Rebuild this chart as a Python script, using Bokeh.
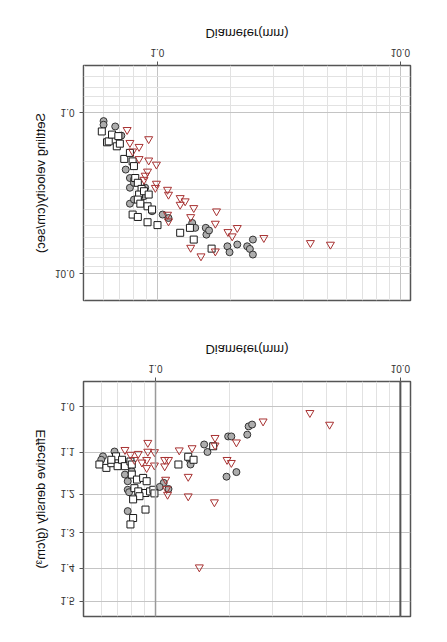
from bokeh.plotting import figure
from bokeh.models import Range1d, FixedTicker, PrintfTickFormatter, Span
from bokeh.layouts import column
from bokeh.embed import file_html
from bokeh.resources import INLINE

# ---------------- data ----------------
x_major = [1, 10]
x_minor = [0.5, 0.6, 0.7, 0.8, 0.9, 2, 3, 4, 5, 6, 7, 8, 9]
vel_major = [1, 10]
vel_minor = [0.5, 0.6, 0.7, 0.8, 0.9, 2, 3, 4, 5, 6, 7, 8, 9]
den_major = [1.0, 1.1, 1.2, 1.3, 1.4, 1.5]

# Settling velocity panel
vel_circle_d = [0.60, 0.60, 0.67, 0.71, 0.74, 0.77, 0.77, 0.77, 0.80, 0.80, 0.80, 0.88, 0.89, 0.95,
                1.05, 1.11, 1.39, 1.43, 1.58, 1.59, 1.63, 1.94, 1.98, 2.13, 2.34, 2.47, 2.40, 2.47]
vel_circle_v = [1.13, 1.19, 1.22, 1.39, 2.26, 2.55, 2.93, 3.68, 2.61, 2.73, 3.47, 3.31, 2.93, 4.10,
                4.30, 4.52, 4.85, 5.20, 5.20, 5.73, 5.40, 6.77, 7.37, 6.60, 6.77, 6.15, 7.03, 7.62]
vel_square_d = [0.59, 0.62, 0.63, 0.65, 0.68, 0.69, 0.70, 0.73, 0.77, 0.79, 0.80, 0.81, 0.83, 0.86,
                0.84, 0.88, 0.92, 0.83, 0.85, 0.91, 0.95, 0.79, 0.83, 0.91, 1.00, 1.24, 1.36, 1.41, 1.67]
vel_square_v = [1.31, 1.53, 1.51, 1.37, 1.62, 1.40, 1.56, 1.94, 1.78, 2.01, 2.15, 2.55, 2.73, 2.98,
                3.23, 3.08, 3.23, 3.47, 3.68, 3.82, 4.00, 4.30, 4.45, 4.80, 5.00, 5.58, 5.20, 6.15, 7.00]
vel_tri_d = [0.75, 0.92, 0.77, 0.84, 0.79, 0.84, 0.92, 0.99, 0.91, 0.89, 0.88, 0.99, 0.98, 1.10, 1.11,
             1.24, 1.24, 1.30, 1.41, 1.75, 1.10, 1.11, 1.37, 1.73, 2.13, 1.95, 2.03, 2.74, 1.37, 1.51,
             1.73, 4.26, 5.15]
vel_tri_v = [1.28, 1.46, 1.54, 1.63, 1.74, 1.94, 1.98, 2.10, 2.32, 2.46, 2.61, 2.76, 2.93, 3.01, 3.23,
             3.39, 3.73, 3.55, 3.91, 4.10, 4.30, 4.73, 4.45, 4.89, 5.20, 5.51, 5.86, 6.00, 6.90, 7.80,
             7.27, 6.45, 6.60]

# Effective density panel
den_circle_d = [0.61, 0.60, 0.68, 0.76, 0.75, 0.77, 0.77, 0.80, 0.77, 1.08, 1.04, 1.13, 1.58, 1.63,
                1.38, 1.39, 1.95, 2.14, 1.98, 2.04, 2.37, 2.40, 2.48, 0.78]
den_circle_r = [1.109, 1.117, 1.098, 1.128, 1.152, 1.168, 1.189, 1.144, 1.243, 1.172, 1.182, 1.187,
                1.082, 1.099, 1.117, 1.128, 1.157, 1.146, 1.064, 1.064, 1.060, 1.042, 1.038, 1.195]
den_square_d = [0.59, 0.63, 0.66, 0.69, 0.70, 0.73, 0.75, 0.79, 0.80, 0.80, 0.84, 0.89, 0.92, 0.82,
                0.85, 0.91, 0.95, 0.98, 0.99, 0.86, 0.81, 0.81, 0.79, 0.91, 1.24, 1.36, 1.43, 1.72, 0.66]
den_square_r = [1.128, 1.136, 1.125, 1.109, 1.132, 1.117, 1.132, 1.121, 1.128, 1.152, 1.164, 1.160,
                1.168, 1.185, 1.193, 1.197, 1.193, 1.189, 1.198, 1.205, 1.213, 1.261, 1.278, 1.239,
                1.128, 1.110, 1.117, 1.086, 1.117]
den_tri_d = [0.75, 0.79, 0.85, 0.93, 0.93, 0.99, 0.82, 0.88, 0.92, 0.92, 0.99, 1.09, 1.13, 1.09, 1.10,
             1.11, 1.12, 1.25, 1.41, 1.36, 1.36, 1.74, 1.75, 1.75, 1.96, 2.04, 2.14, 2.75, 4.27, 5.14,
             1.51]
den_tri_r = [1.094, 1.105, 1.103, 1.078, 1.098, 1.099, 1.117, 1.123, 1.117, 1.136, 1.130, 1.117, 1.117,
             1.132, 1.164, 1.187, 1.201, 1.095, 1.090, 1.157, 1.205, 1.220, 1.067, 1.084, 1.117, 1.124,
             1.077, 1.031, 1.013, 1.038, 1.397]

FONT = "Liberation Sans"


def style(p, yticks, yminor, ylabel, ystandoff):
    p.background_fill_color = "white"
    p.border_fill_color = "white"
    p.outline_line_color = "#555555"
    p.outline_line_width = 1.5
    p.xaxis.ticker = FixedTicker(ticks=x_major, minor_ticks=x_minor)
    p.yaxis.ticker = FixedTicker(ticks=yticks, minor_ticks=yminor)
    p.xgrid.ticker = FixedTicker(ticks=x_major, minor_ticks=x_minor)
    p.ygrid.ticker = FixedTicker(ticks=yticks, minor_ticks=yminor)
    for g in (p.xgrid, p.ygrid):
        g.grid_line_color = "#c4c4c4"
        g.minor_grid_line_color = "#e2e2e2"
    p.xaxis.axis_label = "Diameter(mm)"
    p.yaxis.axis_label = ylabel
    for ax in (p.xaxis, p.yaxis):
        ax.formatter = PrintfTickFormatter(format="%.1f")
        ax.axis_line_color = None
        ax.major_tick_line_color = "#555555"
        ax.major_tick_out = 4
        ax.major_tick_in = 0
        ax.minor_tick_line_color = None
        ax.major_label_text_font = FONT
        ax.major_label_text_font_size = "10px"
        ax.major_label_text_color = "#333333"
        ax.major_label_standoff = 5
        ax.axis_label_text_font = FONT
        ax.axis_label_text_font_size = "13px"
        ax.axis_label_text_font_style = "normal"
        ax.axis_label_text_color = "#111111"
    p.xaxis.axis_label_standoff = 5
    p.yaxis.axis_label_standoff = ystandoff


def add_points(p, cd, cv, sd, sv, td, tv):
    p.scatter(cd, cv, marker="circle", size=7, fill_color="#adadad", line_color="#333333", line_width=1)
    p.scatter(sd, sv, marker="square", size=7, fill_color="white", line_color="#1a1a1a", line_width=1)
    p.scatter(td, tv, marker="triangle", size=8, fill_color="white", fill_alpha=0.0,
              line_color="#a83232", line_width=1)


# top panel (effective density) -- shown at the bottom once the page is mirrored
pA = figure(x_axis_type="log", y_axis_type="log",
            x_range=Range1d(0.508, 11.0), y_range=Range1d(0.949, 1.548),
            frame_width=327, frame_height=235,
            min_border_left=82, min_border_right=22, min_border_top=17, min_border_bottom=58,
            output_backend="svg", toolbar_location=None)
style(pA, den_major, [], "Effective density (g/cm\u00b3)", 10)
pA.add_layout(Span(location=x_major[0], dimension="height", line_color="#9a9a9a", line_width=1.5))
pA.add_layout(Span(location=x_major[1], dimension="height", line_color="#555555", line_width=2))
add_points(pA, den_circle_d, den_circle_r, den_square_d, den_square_r, den_tri_d, den_tri_r)

# bottom panel (settling velocity) -- shown at the top once the page is mirrored
pB = figure(x_axis_type="log", y_axis_type="log",
            x_range=Range1d(0.496, 11.0), y_range=Range1d(0.51, 14.7),
            frame_width=327, frame_height=235,
            min_border_left=83, min_border_right=21, min_border_top=23, min_border_bottom=66,
            output_backend="svg", toolbar_location=None)
style(pB, vel_major, vel_minor, "Settling velocity(cm/sec)", 4)
add_points(pB, vel_circle_d, vel_circle_v, vel_square_d, vel_square_v, vel_tri_d, vel_tri_v)

layout = column(pA, pB, spacing=0, styles={"transform": "scaleY(-1)", "transform-origin": "50% 50%"})

open("out.html", "w").write(file_html(layout, INLINE))
